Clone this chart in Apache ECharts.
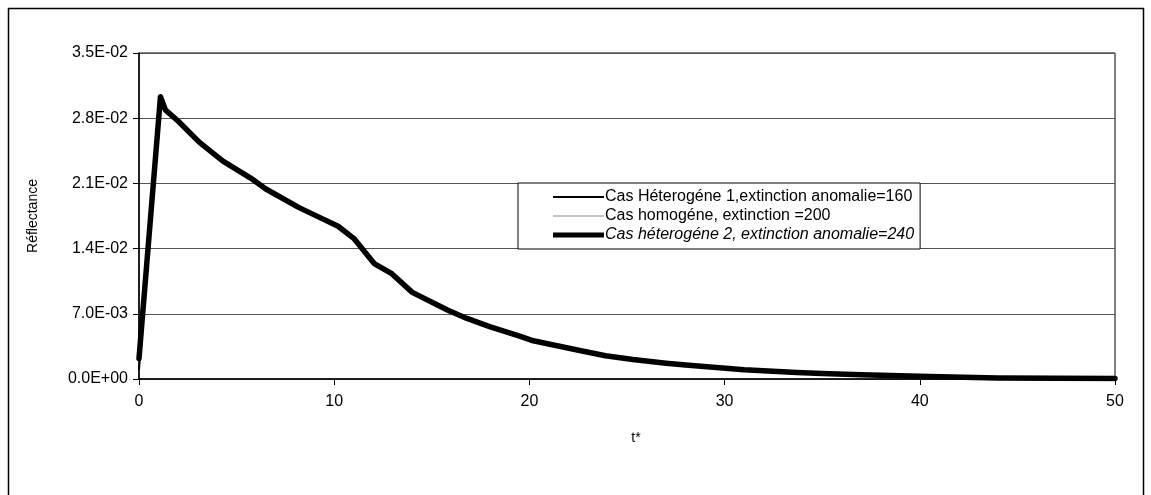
<!DOCTYPE html>
<html>
<head>
<meta charset="utf-8">
<script src="https://cdn.jsdelivr.net/npm/echarts@6/dist/echarts.min.js"></script>
<style>
  html, body { margin: 0; padding: 0; background: #fff; }
  #chart { width: 1151px; height: 495px; }
</style>
</head>
<body>
<div id="chart"></div>
<script>
// Time axis (t*) and reflectance samples for the three extinction cases
const tValues = [0, 1.1, 1.35, 2, 3.1, 4.3, 5.7, 6.5, 8.2, 9.3, 10.2, 11, 12.05, 12.95, 14, 15.8, 16.8, 18, 19.5, 20.2, 22.7, 23.9, 25.3, 27, 28, 31, 33.7, 35, 37, 40.5, 44, 50];

const reflHetero1 = [0.0010, 0.0302, 0.0289, 0.0277, 0.0254, 0.0234, 0.0216, 0.0204, 0.0184, 0.0173, 0.0164, 0.0151, 0.0124, 0.0113, 0.0093, 0.0074, 0.0065, 0.0056, 0.0046, 0.0041, 0.0030, 0.0025, 0.0021, 0.0017, 0.0015, 0.0010, 0.0007, 0.0006, 0.00045, 0.00027, 0.00012, 0.00005];
const reflHomogene = [0.0015, 0.0303, 0.0289, 0.0277, 0.0254, 0.0234, 0.0216, 0.0204, 0.0184, 0.0173, 0.0164, 0.0151, 0.0124, 0.0113, 0.0093, 0.0074, 0.0065, 0.0056, 0.0046, 0.0041, 0.0030, 0.0025, 0.0021, 0.0017, 0.0015, 0.0010, 0.0007, 0.0006, 0.00045, 0.00027, 0.00012, 0.00005];
const reflHetero2 = [0.0022, 0.0303, 0.0289, 0.0277, 0.0254, 0.0234, 0.0216, 0.0204, 0.0184, 0.0173, 0.0164, 0.0151, 0.0124, 0.0113, 0.0093, 0.0074, 0.0065, 0.0056, 0.0046, 0.0041, 0.0030, 0.0025, 0.0021, 0.0017, 0.0015, 0.0010, 0.0007, 0.0006, 0.00045, 0.00027, 0.00012, 0.00005];

const seriesNames = [
  'Cas Héterogéne 1,extinction anomalie=160',
  'Cas homogéne, extinction =200',
  'Cas héterogéne 2, extinction anomalie=240'
];

const yTickLabels = ['0.0E+00', '7.0E-03', '1.4E-02', '2.1E-02', '2.8E-02', '3.5E-02'];
const xTickLabels = ['0', '10', '20', '30', '40', '50'];

const FONT = '"Liberation Sans", Arial, sans-serif';

function pairs(ys) {
  return tValues.map((t, i) => [t, ys[i]]);
}

// legend keys are plain strokes of the series' own thickness
function strokeIcon(h) {
  return 'path://M0,0H50V' + h + 'H0Z';
}

const chart = echarts.init(document.getElementById('chart'), null, { renderer: 'canvas' });

chart.setOption({
  backgroundColor: '#ffffff',
  animation: false,
  textStyle: { fontFamily: FONT, color: '#000' },
  graphic: [{
    type: 'rect',
    shape: { x: 8.5, y: 8.5, width: 1135, height: 500 },
    style: { fill: 'none', stroke: '#000', lineWidth: 1.5 },
    z: 100
  }],
  grid: {
    left: 139, right: 36, top: 53, bottom: 116,
    show: true, borderColor: '#000', borderWidth: 1, backgroundColor: 'transparent'
  },
  legend: {
    orient: 'vertical',
    left: 518, top: 183,
    padding: [6, 6, 6, 35],
    itemGap: 3,
    itemWidth: 51,
    itemHeight: 16,
    symbolKeepAspect: true,
    borderColor: '#000',
    borderWidth: 1,
    backgroundColor: '#fff',
    textStyle: { fontFamily: FONT, fontSize: 16, color: '#000', padding: [0, 0, 0, -4] },
    data: [
      { name: seriesNames[0], icon: strokeIcon(2) },
      { name: seriesNames[1], icon: strokeIcon(1) },
      { name: seriesNames[2], icon: strokeIcon(5), textStyle: { fontStyle: 'italic' } }
    ]
  },
  xAxis: {
    type: 'value',
    min: 0, max: 50, interval: 10,
    name: 't*',
    nameLocation: 'middle',
    nameGap: 52,
    nameTextStyle: { fontFamily: FONT, fontSize: 14, color: '#000', padding: [0, 0, 0, 18] },
    axisLine: { show: true, lineStyle: { color: '#000', width: 1.5 } },
    axisTick: { show: true, length: 6, lineStyle: { color: '#000' } },
    axisLabel: {
      fontFamily: FONT, fontSize: 16, color: '#000', margin: 15,
      formatter: v => xTickLabels[Math.round(v / 10)]
    },
    splitLine: { show: false }
  },
  yAxis: {
    type: 'value',
    min: 0, max: 0.035, interval: 0.007,
    name: 'Réflectance',
    nameLocation: 'middle',
    nameRotate: 90,
    nameGap: 99,
    nameTextStyle: { fontFamily: FONT, fontSize: 14, color: '#000' },
    axisLine: { show: true, lineStyle: { color: '#000', width: 1.5 } },
    axisTick: { show: true, length: 6, lineStyle: { color: '#000' } },
    axisLabel: {
      fontFamily: FONT, fontSize: 16, color: '#000', margin: 11,
      formatter: v => yTickLabels[Math.round(v / 0.007)]
    },
    splitLine: { show: true, lineStyle: { color: '#555', width: 1 } }
  },
  series: [
    {
      name: seriesNames[0], type: 'line', symbol: 'none',
      data: pairs(reflHetero1),
      lineStyle: { color: '#000', width: 2 }, itemStyle: { color: '#000' }, z: 3
    },
    {
      name: seriesNames[1], type: 'line', symbol: 'none',
      data: pairs(reflHomogene),
      lineStyle: { color: '#888', width: 1.2 }, itemStyle: { color: '#888' }, z: 2
    },
    {
      name: seriesNames[2], type: 'line', symbol: 'none',
      data: pairs(reflHetero2),
      lineStyle: { color: '#000', width: 5.5, join: 'round', cap: 'round' }, itemStyle: { color: '#000' }, z: 4
    }
  ]
});
</script>
</body>
</html>
